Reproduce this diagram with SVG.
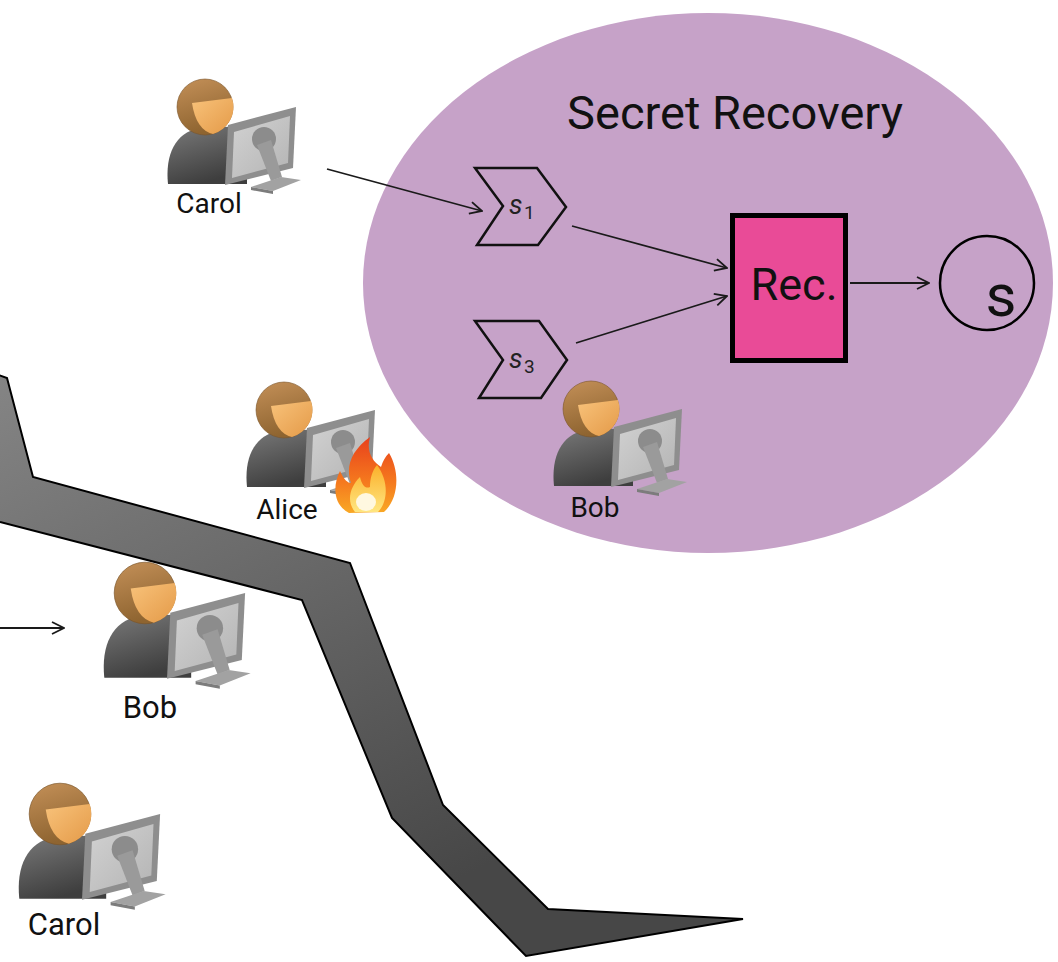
<svg xmlns="http://www.w3.org/2000/svg" xmlns:xlink="http://www.w3.org/1999/xlink" width="1058" height="962" viewBox="0 0 1058 962">
  <style>
    .lbl { font-family: Roboto, "Liberation Sans", sans-serif; fill: #111; }
    .user-name { font-size: 28px; text-anchor: middle; }
    .user-name-lg { font-size: 31px; text-anchor: middle; }
    .share { fill: none; stroke: #111; stroke-width: 2.5; stroke-linejoin: miter; }
    .sym { font-family: Roboto, "Liberation Sans", sans-serif; fill: #222; }
    .conn { fill: none; stroke: #1a1a1a; stroke-width: 1.8; marker-end: url(#open-arrow); }
  </style>
  <defs>
    <marker id="open-arrow" viewBox="0 0 14 14" refX="13" refY="7" markerWidth="14" markerHeight="14" markerUnits="userSpaceOnUse" orient="auto">
      <path d="M1,1 L13,7 L1,13" fill="none" stroke="#1a1a1a" stroke-width="1.8"/>
    </marker>
    <linearGradient id="crack-fill" gradientUnits="userSpaceOnUse" x1="0" y1="370" x2="300" y2="960">
      <stop offset="0" stop-color="#858585"/>
      <stop offset="1" stop-color="#474747"/>
    </linearGradient>
    <linearGradient id="hair" x1="0" y1="0" x2="0.3" y2="1">
      <stop offset="0" stop-color="#C49058"/>
      <stop offset="1" stop-color="#8E6430"/>
    </linearGradient>
    <linearGradient id="face" x1="0" y1="0" x2="1" y2="1">
      <stop offset="0" stop-color="#F8C27A"/>
      <stop offset="1" stop-color="#E49A48"/>
    </linearGradient>
    <linearGradient id="torso" x1="0" y1="0" x2="0.4" y2="1">
      <stop offset="0" stop-color="#7A7A7A"/>
      <stop offset="1" stop-color="#3E3E3E"/>
    </linearGradient>
    <linearGradient id="screen" x1="0" y1="0" x2="1" y2="1">
      <stop offset="0" stop-color="#D2D2D2"/>
      <stop offset="1" stop-color="#B4B4B4"/>
    </linearGradient>
    <linearGradient id="flame-outer" x1="0" y1="0" x2="0" y2="1">
      <stop offset="0" stop-color="#E8401C"/>
      <stop offset="0.6" stop-color="#F57A1E"/>
      <stop offset="1" stop-color="#F9A825"/>
    </linearGradient>
    <linearGradient id="flame-inner" x1="0" y1="0" x2="0" y2="1">
      <stop offset="0" stop-color="#FBB02A"/>
      <stop offset="1" stop-color="#FFE680"/>
    </linearGradient>

    <!-- user at a workstation; origin is the centre of the head -->
    <g id="user-icon">
      <path d="M-37,77 C-40,48 -30,26 -6,21 L42,19 L42,77 Z" fill="url(#torso)"/>
      <circle cx="0" cy="0" r="28" fill="url(#hair)" stroke="#7a5428" stroke-width="0.6"/>
      <path d="M-13,-4 L27,-9 A28,28 0 0 1 8,27 Q-9,23 -13,-4 Z" fill="url(#face)"/>
      <path d="M23,18 L91,0 L88,61 L20,78 Z" fill="#8E8E8E"/>
      <path d="M29,25 L85,9 L83,56 L27,71 Z" fill="url(#screen)"/>
      <circle cx="59" cy="32" r="12" fill="#8C8C8C"/>
      <path d="M52,38 L66,33 L77,70 L66,74 Z" fill="#9A9A9A"/>
      <path d="M46,80 L76,70 L96,73 L68,84 Z" fill="#A2A2A2"/>
      <path d="M46,80 L68,84 L68,87 L46,83 Z" fill="#7C7C7C"/>
    </g>
  </defs>

  <rect width="1058" height="962" fill="#ffffff"/>

  <!-- fault line across the lower-left part -->
  <path id="crack" d="M-10,372 L7,378 L33,477 L350,563 L443,805 L548,909 L743,919 L526,956 L392,818 L302,600 L0,522 L-10,519 Z" fill="url(#crack-fill)" stroke="#000" stroke-width="2" stroke-linejoin="miter"/>

  <!-- recovery region -->
  <g id="secret-recovery">
    <ellipse cx="708" cy="283" rx="345" ry="270" fill="#C6A2C8"/>
    <text class="lbl" x="735" y="129" font-size="47" text-anchor="middle">Secret Recovery</text>
  </g>

  <g id="share-s1">
    <polygon class="share" points="475,168 537,168 566,207 538,245 477,245 503,206"/>
    <text class="sym" x="509" y="214" font-size="27" font-style="italic">s</text>
    <text class="sym" x="524" y="219" font-size="19">1</text>
  </g>

  <g id="share-s3">
    <polygon class="share" points="475,321 539,321 567,360 541,398 479,398 503,360"/>
    <text class="sym" x="509" y="368" font-size="27" font-style="italic">s</text>
    <text class="sym" x="524" y="373" font-size="19">3</text>
  </g>

  <g id="rec">
    <rect x="732.5" y="215.5" width="113" height="145" fill="#E94B97" stroke="#000" stroke-width="5"/>
    <text class="lbl" x="794" y="300" font-size="45" text-anchor="middle">Rec.</text>
  </g>

  <g id="secret">
    <circle cx="987" cy="283" r="47" fill="none" stroke="#000" stroke-width="2.5"/>
    <text class="lbl" x="1001" y="316" font-size="60" text-anchor="middle">s</text>
  </g>

  <g id="connectors">
    <line class="conn" x1="327" y1="169" x2="482" y2="211"/>
    <line class="conn" x1="572" y1="226" x2="727" y2="268"/>
    <line class="conn" x1="576" y1="343" x2="727" y2="296"/>
    <line class="conn" x1="850" y1="283" x2="929" y2="283"/>
    <line class="conn" x1="0" y1="628" x2="64" y2="628"/>
  </g>

  <g id="carol-top">
    <use xlink:href="#user-icon" transform="translate(205,107)"/>
    <text class="lbl user-name" x="209" y="213">Carol</text>
  </g>

  <g id="alice">
    <use xlink:href="#user-icon" transform="translate(284,410)"/>
    <text class="lbl user-name" x="287" y="519">Alice</text>
    <!-- compromised marker -->
    <g id="flame">
      <path d="M349,513 C334,505 332,487 340,471 C344,480 348,483 351,483 C345,466 352,450 370,437 C366,451 372,461 381,467 C383,461 385,457 389,453 C400,471 399,499 384,512 Z" fill="url(#flame-outer)"/>
      <path d="M355,512 C346,501 350,487 360,477 C362,486 366,489 370,487 C370,479 372,471 377,465 C389,481 388,502 378,512 Z" fill="url(#flame-inner)"/>
      <ellipse cx="366" cy="502" rx="10" ry="9" fill="#FFF8E0"/>
    </g>
  </g>

  <g id="bob-top">
    <use xlink:href="#user-icon" transform="translate(591,409)"/>
    <text class="lbl user-name" x="595" y="517">Bob</text>
  </g>

  <g id="bob-bottom">
    <use xlink:href="#user-icon" transform="translate(145,593) scale(1.1)"/>
    <text class="lbl user-name-lg" x="150" y="718">Bob</text>
  </g>

  <g id="carol-bottom">
    <use xlink:href="#user-icon" transform="translate(60,814) scale(1.1)"/>
    <text class="lbl user-name-lg" x="64" y="935">Carol</text>
  </g>
</svg>
